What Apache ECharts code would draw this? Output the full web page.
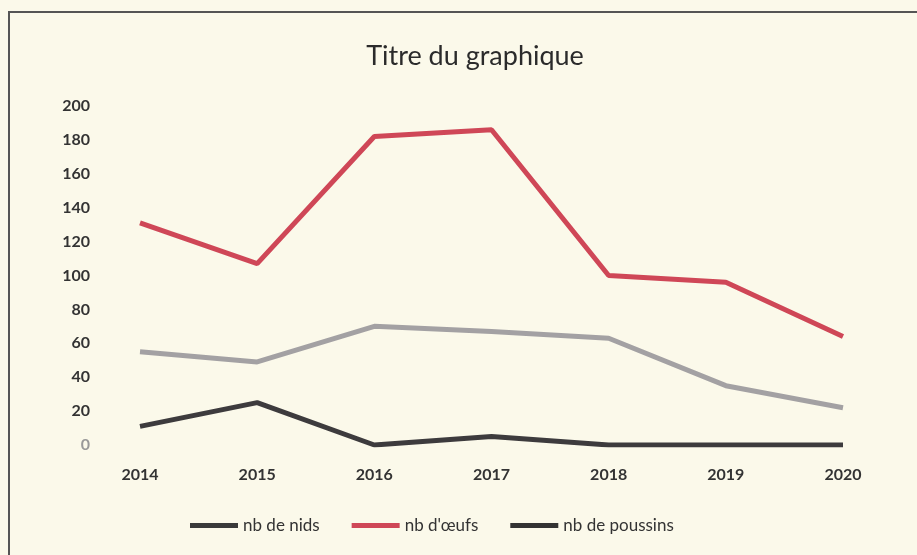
<!DOCTYPE html>
<html>
<head>
<meta charset="utf-8">
<script src="https://cdn.jsdelivr.net/npm/echarts@6/dist/echarts.min.js"></script>
<style>
  html, body { margin: 0; padding: 0; background: #fbf9ea; }
  #chart { width: 917px; height: 555px; }
</style>
</head>
<body>
<div id="chart"></div>
<script>
const years = ['2014', '2015', '2016', '2017', '2018', '2019', '2020'];
const nids = [55, 49, 70, 67, 63, 35, 22];
const oeufs = [131, 107, 182, 186, 100, 96, 64];
const poussins = [11, 25, 0, 5, 0, 0, 0];

const chart = echarts.init(document.getElementById('chart'));

const font = 'Lato, "Open Sans", sans-serif';

chart.setOption({
  backgroundColor: '#fbf9ea',
  animation: false,
  title: {
    text: 'Titre du graphique',
    left: 470,
    top: 38,
    textAlign: 'center',
    textStyle: { fontFamily: font, fontSize: 27, fontWeight: 'normal', color: '#2b2b2b' }
  },
  graphic: [{
    type: 'rect',
    shape: { x: 9, y: 12, width: 960, height: 600 },
    style: { fill: 'none', stroke: '#555', lineWidth: 2 }
  }],
  grid: { left: 140, right: 74, top: 106, bottom: 110 },
  legend: {
    bottom: 16,
    left: 185,
    itemWidth: 48,
    itemGap: 32,
    icon: 'rect',
    itemHeight: 5,
    textStyle: { fontFamily: font, fontSize: 17, color: '#333' },
    data: [
      { name: 'nb de nids', itemStyle: { color: '#3a3a3a' } },
      { name: "nb d'œufs", itemStyle: { color: '#cf4757' } },
      { name: 'nb de poussins', itemStyle: { color: '#333' } }
    ]
  },
  xAxis: {
    type: 'category',
    data: years,
    boundaryGap: false,
    axisLine: { show: false },
    axisTick: { show: false },
    axisLabel: { margin: 22, fontFamily: font, fontSize: 16, fontWeight: 'bold', color: '#333' }
  },
  yAxis: {
    type: 'value',
    min: 0,
    max: 200,
    interval: 20,
    splitLine: { show: false },
    axisLine: { show: false },
    axisTick: { show: false },
    axisLabel: {
      margin: 50,
      fontFamily: font,
      fontSize: 16,
      fontWeight: 'bold',
      color: '#333',
      formatter: v => v === 0 ? '{z|0}' : String(v),
      rich: { z: { color: '#999', fontFamily: font, fontSize: 16 } }
    }
  },
  series: [
    {
      name: 'nb de nids', type: 'line', data: nids, symbol: 'none',
      lineStyle: { color: '#a3a1a3', width: 5 }, itemStyle: { color: '#a3a1a3' }
    },
    {
      name: "nb d'œufs", type: 'line', data: oeufs, symbol: 'none',
      lineStyle: { color: '#cf4757', width: 5 }, itemStyle: { color: '#cf4757' }
    },
    {
      name: 'nb de poussins', type: 'line', data: poussins, symbol: 'none',
      lineStyle: { color: '#3d3b3d', width: 5 }, itemStyle: { color: '#3d3b3d' }
    }
  ]
});
</script>
</body>
</html>
